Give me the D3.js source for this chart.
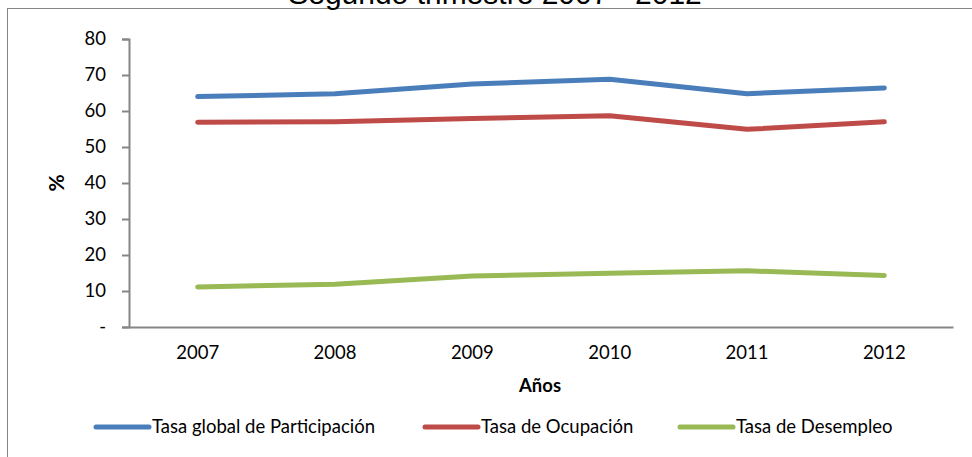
<!DOCTYPE html>
<html>
<head>
<meta charset="utf-8">
<script src="https://cdn.jsdelivr.net/npm/d3@7"></script>
<style>
  body { margin: 0; background: #fff; }
  svg { display: block; }
</style>
</head>
<body>
<div id="chart-container"></div>
<script>
// Segundo trimestre 2007 - 2012: tasas del mercado laboral
const years = ["2007", "2008", "2009", "2010", "2011", "2012"];
const participacion = [64.0, 64.8, 67.5, 68.8, 64.8, 66.4];
const ocupacion = [56.9, 57.0, 57.9, 58.7, 54.9, 57.0];
const desempleo = [11.1, 11.9, 14.2, 14.9, 15.6, 14.3];
const yTicks = [0, 10, 20, 30, 40, 50, 60, 70, 80];
const seriesNames = ["Tasa global de Participación", "Tasa de Ocupación", "Tasa de Desempleo"];
const seriesColors = ["#4a7ebb", "#be4b48", "#98b954"];

const W = 972, H = 457;
const margin = { top: 39, right: 19, bottom: 130, left: 129 },
    width = W - margin.left - margin.right,
    height = H - margin.top - margin.bottom;

const font = "Lato, 'Open Sans', sans-serif";
const fs = "18.5px";

const root = d3.select("#chart-container").append("svg")
    .attr("width", W)
    .attr("height", H);

// outer chart border (runs off the right and bottom edges)
root.append("rect")
    .attr("x", 7.5).attr("y", 8.5)
    .attr("width", W + 10).attr("height", H + 10)
    .attr("fill", "none")
    .attr("stroke", "#868686")
    .attr("stroke-width", 1);

// title, clipped at the top as in the original
root.append("text")
    .attr("x", 495)
    .attr("y", 4)
    .attr("text-anchor", "middle")
    .style("font-family", "'Liberation Sans', Arial, sans-serif")
    .style("font-size", "30px")
    .text("Segundo trimestre 2007 - 2012");

const svg = root.append("g")
    .attr("transform", `translate(${margin.left},${margin.top})`);

// Scales
const x = d3.scaleBand().domain(years).range([0, width]);
const y = d3.scaleLinear().domain([0, 80]).range([height, 0]);

// Y axis
const yAxis = svg.append("g")
    .call(d3.axisLeft(y).tickValues(yTicks).tickSize(7).tickPadding(16)
        .tickFormat(d => d === 0 ? "-" : d));
yAxis.select(".domain").attr("stroke", "#868686").attr("stroke-width", 2);
yAxis.selectAll(".tick line").attr("stroke", "#868686").attr("stroke-width", 2);
yAxis.selectAll(".tick text")
    .style("font-family", font).style("font-size", fs).attr("fill", "#000");

// X axis
const xAxis = svg.append("g")
    .attr("transform", `translate(0,${height})`)
    .call(d3.axisBottom(x).tickSize(0).tickPadding(19));
xAxis.select(".domain").attr("stroke", "#868686").attr("stroke-width", 2);
xAxis.selectAll(".tick text")
    .style("font-family", font).style("font-size", fs).attr("fill", "#000");

// axis titles
svg.append("text")
    .attr("x", 540 - margin.left)
    .attr("y", height + 65)
    .attr("text-anchor", "middle")
    .style("font-family", font).style("font-size", fs).style("font-weight", "bold")
    .text("Años");

svg.append("text")
    .attr("transform", "rotate(-90)")
    .attr("x", -(183 - margin.top))
    .attr("y", 64 - margin.left)
    .attr("text-anchor", "middle")
    .style("font-family", font).style("font-size", "21px").style("font-weight", "bold")
    .text("%");

// Lines
const line = d3.line()
    .x((d, i) => x(years[i]) + x.bandwidth() / 2)
    .y(d => y(d));

[participacion, ocupacion, desempleo].forEach((vals, i) => {
    svg.append("path")
        .datum(vals)
        .attr("fill", "none")
        .attr("stroke", seriesColors[i])
        .attr("stroke-width", 5)
        .attr("stroke-linecap", "round")
        .attr("stroke-linejoin", "round")
        .attr("d", line);
});

// Legend
const legendX = [96, 425, 680];
const legend = root.append("g").attr("transform", "translate(0,427)");
seriesNames.forEach((name, i) => {
    legend.append("line")
        .attr("x1", legendX[i]).attr("x2", legendX[i] + 53)
        .attr("y1", 0).attr("y2", 0)
        .attr("stroke", seriesColors[i])
        .attr("stroke-width", 5)
        .attr("stroke-linecap", "round");
    legend.append("text")
        .attr("x", legendX[i] + 56)
        .attr("y", 6)
        .style("font-family", font).style("font-size", fs)
        .text(name);
});
</script>
</body>
</html>
